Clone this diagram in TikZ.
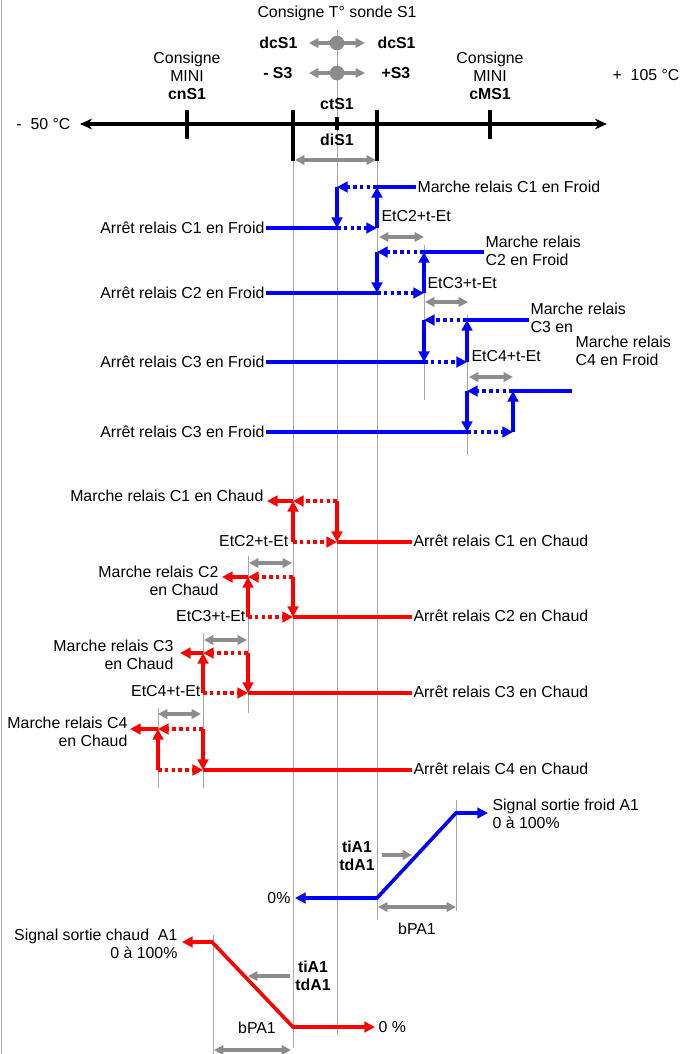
\documentclass[tikz,border=0pt]{standalone}
\usepackage{fontspec}
\setmainfont{Liberation Sans}
\usetikzlibrary{arrows.meta}

\begin{document}
\begin{tikzpicture}[
    x=0.75pt, y=-0.75pt,
    every node/.style={font=\fontsize{11.9}{13.5}\selectfont, inner sep=1pt},
    param/.style={font=\fontsize{11.9}{13.5}\selectfont\bfseries},
    guide/.style={draw=black!35, line width=0.75pt},
    span/.style={{Triangle[length=7pt,width=7pt]}-{Triangle[length=7pt,width=7pt]}, draw=black!45, line width=2.5pt},
    push/.style={-{Triangle[length=7pt,width=7pt]}, draw=black!45, line width=2.5pt},
    thermo/.style={{Stealth[length=9pt,width=8pt]}-{Stealth[length=9pt,width=8pt]}, line width=2.5pt},
    notch/.style={line width=2.5pt},
    cold/.style={draw=blue, line width=2.7pt},
    hot/.style={draw=red, line width=2.7pt},
    headed/.style={-{Triangle[length=8pt,width=8pt]}},
    both/.style={{Triangle[length=8pt,width=8pt]}-{Triangle[length=8pt,width=8pt]}},
    dotline/.style={dash pattern=on 2.7pt off 2.4pt},
    knob/.style={circle, fill=black!45, minimum size=11pt, inner sep=0pt}
]
\useasboundingbox (0,0) rectangle (683,1054);
\draw[guide] (1.5,0) -- (1.5,1054);

% guide lines
\draw[guide] (293,161) -- (293,1048);
\draw[guide] (337,30) -- (337,1035);
\draw[guide] (377,161) -- (377,920);
\draw[guide] (424,245) -- (424,400);
\draw[guide] (467,315) -- (467,455);
\draw[guide] (248,556) -- (248,713);
\draw[guide] (203,633) -- (203,788);
\draw[guide] (158,708) -- (158,788);
\draw[guide] (456,800) -- (456,911);
\draw[guide] (213,935) -- (213,1054);

% set point and scale
\node (title) at (337,13) {Consigne T° sonde S1};
\draw[span] (309,43) -- (365,43);
\draw[span] (309,73) -- (365,73);
\node[knob] (k1) at (337,43) {};
\node[knob] (k2) at (337,73) {};
\node[param, anchor=east] (dcl) at (299,43) {dcS1};
\node[param, anchor=west] (dcr) at (376,43) {dcS1};
\node[param, anchor=east] (s3l) at (294,73) {- S3};
\node[param, anchor=west] (s3r) at (380,73) {+S3};
\node[align=center] (cn) at (187,76) {Consigne\\MINI\\\textbf{cnS1}};
\node[align=center] (cm) at (490,76) {Consigne\\MINI\\\textbf{cMS1}};
\node[anchor=east] (tmax) at (681,75) {+\ \ 105 °C};
\node[anchor=east] (tmin) at (72,124) {-\ \ 50 °C};
\coordinate (amin) at (80,124);
\coordinate (amax) at (607,124);
\draw[thermo] (amin) -- (amax);
\draw[notch] (187,110) -- (187,139);
\draw[notch] (490,110) -- (490,139);
\draw[notch] (293,110) -- (293,161);
\draw[notch] (377,110) -- (377,161);
\draw[notch] (337,117) -- (337,130);
\node[param] (ct) at (337,104) {ctS1};
\node[param] (di) at (337,140) {diS1};
\draw[span] (295,160) -- (376,160);

% cooling stages
\coordinate (fo1) at (337,228); \coordinate (fr1) at (377,228);
\coordinate (fm1) at (377,187); \coordinate (fu1) at (337,187);
\coordinate (fo2) at (377,293); \coordinate (fr2) at (424,293);
\coordinate (fm2) at (424,252); \coordinate (fu2) at (377,252);
\coordinate (fo3) at (424,362); \coordinate (fr3) at (467,362);
\coordinate (fm3) at (467,320); \coordinate (fu3) at (424,320);
\coordinate (fo4) at (467,432); \coordinate (fr4) at (513,432);
\coordinate (fm4) at (513,391); \coordinate (fu4) at (467,391);
\coordinate (fe4) at (572,391);

\node[anchor=east] (af1) at (266,228) {Arrêt relais C1 en Froid};
\node[anchor=east] (af2) at (266,293) {Arrêt relais C2 en Froid};
\node[anchor=east] (af3) at (266,362) {Arrêt relais C3 en Froid};
\node[anchor=east] (af4) at (266,432) {Arrêt relais C3 en Froid};
\node[anchor=west] (mf1) at (416,187) {Marche relais C1 en Froid};
\node[anchor=west, align=left] (mf2) at (484,251) {Marche relais\\C2 en Froid};
\node[anchor=west, align=left] (mf3) at (529,318) {Marche relais\\C3 en};
\node[anchor=west, align=left] (mf4) at (574,351) {Marche relais\\C4 en Froid};
\node[anchor=west] (ef2) at (380,216) {EtC2+t-Et};
\node[anchor=west] (ef3) at (426,283) {EtC3+t-Et};
\node[anchor=west] (ef4) at (470,356) {EtC4+t-Et};

\draw[cold] (af1.east) -- (fo1);
\draw[cold, dotline, headed] (fo1) -- (fr1);
\draw[cold, headed] (fr1) -- (fm1);
\draw[cold] (fm1) -- (fm1 -| mf1.west);
\draw[cold, dotline, headed] (fm1) -- (fu1);
\draw[cold, headed] (fu1) -- (fo1);

\draw[cold] (af2.east) -- (fo2);
\draw[cold, dotline, headed] (fo2) -- (fr2);
\draw[cold, headed] (fr2) -- (fm2);
\draw[cold] (fm2) -- (fm2 -| mf2.west);
\draw[cold, dotline, headed] (fm2) -- (fu2);
\draw[cold, headed] (fu2) -- (fo2);

\draw[cold] (af3.east) -- (fo3);
\draw[cold, dotline, headed] (fo3) -- (fr3);
\draw[cold, headed] (fr3) -- (fm3);
\draw[cold] (fm3) -- (fm3 -| mf3.west);
\draw[cold, dotline, headed] (fm3) -- (fu3);
\draw[cold, headed] (fu3) -- (fo3);

\draw[cold] (af4.east) -- (fo4);
\draw[cold, dotline, headed] (fo4) -- (fr4);
\draw[cold, headed] (fr4) -- (fm4);
\draw[cold] (fm4) -- (fe4);
\draw[cold, dotline, headed] (fm4) -- (fu4);
\draw[cold, headed] (fu4) -- (fo4);

\draw[span] (379,237) -- (424,237);
\draw[span] (425,302) -- (468,302);
\draw[span] (469,377) -- (513,377);

% heating stages
\coordinate (ho1) at (337,542); \coordinate (hr1) at (293,542);
\coordinate (hm1) at (293,501); \coordinate (hu1) at (337,501);
\coordinate (ho2) at (293,617); \coordinate (hr2) at (248,617);
\coordinate (hm2) at (248,577); \coordinate (hu2) at (293,577);
\coordinate (ho3) at (248,693); \coordinate (hr3) at (203,693);
\coordinate (hm3) at (203,653); \coordinate (hu3) at (248,653);
\coordinate (ho4) at (203,770); \coordinate (hr4) at (158,770);
\coordinate (hm4) at (158,729); \coordinate (hu4) at (203,729);
\coordinate (he1) at (267,501); \coordinate (he2) at (222,577);
\coordinate (he3) at (180,653); \coordinate (he4) at (130,729);

\node[anchor=west] (ac1) at (412,541) {Arrêt relais C1 en Chaud};
\node[anchor=west] (ac2) at (412,616) {Arrêt relais C2 en Chaud};
\node[anchor=west] (ac3) at (412,692) {Arrêt relais C3 en Chaud};
\node[anchor=west] (ac4) at (412,769) {Arrêt relais C4 en Chaud};
\node[anchor=east] (mc1) at (265,496) {Marche relais C1 en Chaud};
\node[anchor=east, align=right] (mc2) at (220,581) {Marche relais C2\\en Chaud};
\node[anchor=east, align=right] (mc3) at (175,655) {Marche relais C3\\en Chaud};
\node[anchor=east, align=right] (mc4) at (129,732) {Marche relais C4\\en Chaud};
\node[anchor=east] (ec2) at (290,541) {EtC2+t-Et};
\node[anchor=east] (ec3) at (247,616) {EtC3+t-Et};
\node[anchor=east] (ec4) at (202,691) {EtC4+t-Et};

\draw[hot] (ho1) -- (ho1 -| ac1.west);
\draw[hot, dotline, headed] (hr1) -- (ho1);
\draw[hot, headed] (hr1) -- (hm1);
\draw[hot, headed] (hm1) -- (he1);
\draw[hot, dotline, headed] (hu1) -- (hm1);
\draw[hot, headed] (hu1) -- (ho1);

\draw[hot] (ho2) -- (ho2 -| ac2.west);
\draw[hot, dotline, headed] (hr2) -- (ho2);
\draw[hot, headed] (hr2) -- (hm2);
\draw[hot, headed] (hm2) -- (he2);
\draw[hot, dotline, headed] (hu2) -- (hm2);
\draw[hot, headed] (hu2) -- (ho2);

\draw[hot] (ho3) -- (ho3 -| ac3.west);
\draw[hot, dotline, headed] (hr3) -- (ho3);
\draw[hot, headed] (hr3) -- (hm3);
\draw[hot, headed] (hm3) -- (he3);
\draw[hot, dotline, headed] (hu3) -- (hm3);
\draw[hot, headed] (hu3) -- (ho3);

\draw[hot] (ho4) -- (ho4 -| ac4.west);
\draw[hot, dotline, headed] (hr4) -- (ho4);
\draw[hot, headed] (hr4) -- (hm4);
\draw[hot, headed] (hm4) -- (he4);
\draw[hot, dotline, headed] (hu4) -- (hm4);
\draw[hot, headed] (hu4) -- (ho4);

\draw[span] (249,563) -- (292,563);
\draw[span] (204,640) -- (247,640);
\draw[span] (158,714) -- (201,714);

% analog outputs
\coordinate (b0) at (295,898); \coordinate (b1) at (377,898);
\coordinate (b2) at (456,813); \coordinate (b3) at (488,813);
\draw[cold, both] (b0) -- (b1) -- (b2) -- (b3);
\node[anchor=east] (z1) at (292,898) {0\%};
\node[anchor=west, align=left] (sf) at (491,814) {Signal sortie froid A1\\0 à 100\%};
\node[param, align=center] (ti1) at (357,856) {tiA1\\tdA1};
\draw[push] (382,855) -- (412,855);
\draw[span] (378,907) -- (456,907);
\node (bp1) at (417,929) {bPA1};

\coordinate (r0) at (182,942); \coordinate (r1) at (212,942);
\coordinate (r2) at (293,1027); \coordinate (r3) at (375,1027);
\draw[hot, both] (r0) -- (r1) -- (r2) -- (r3);
\node[anchor=west] (z2) at (377,1027) {0 \%};
\node[anchor=east, align=right] (sc) at (179,944) {Signal sortie chaud\ \ A1\\0 à 100\%};
\node[param, align=center] (ti2) at (313,976) {tiA1\\tdA1};
\draw[push] (290,976) -- (248,976);
\draw[span] (214,1050) -- (291,1050);
\node (bp2) at (257,1028) {bPA1};
\end{tikzpicture}
\end{document}
